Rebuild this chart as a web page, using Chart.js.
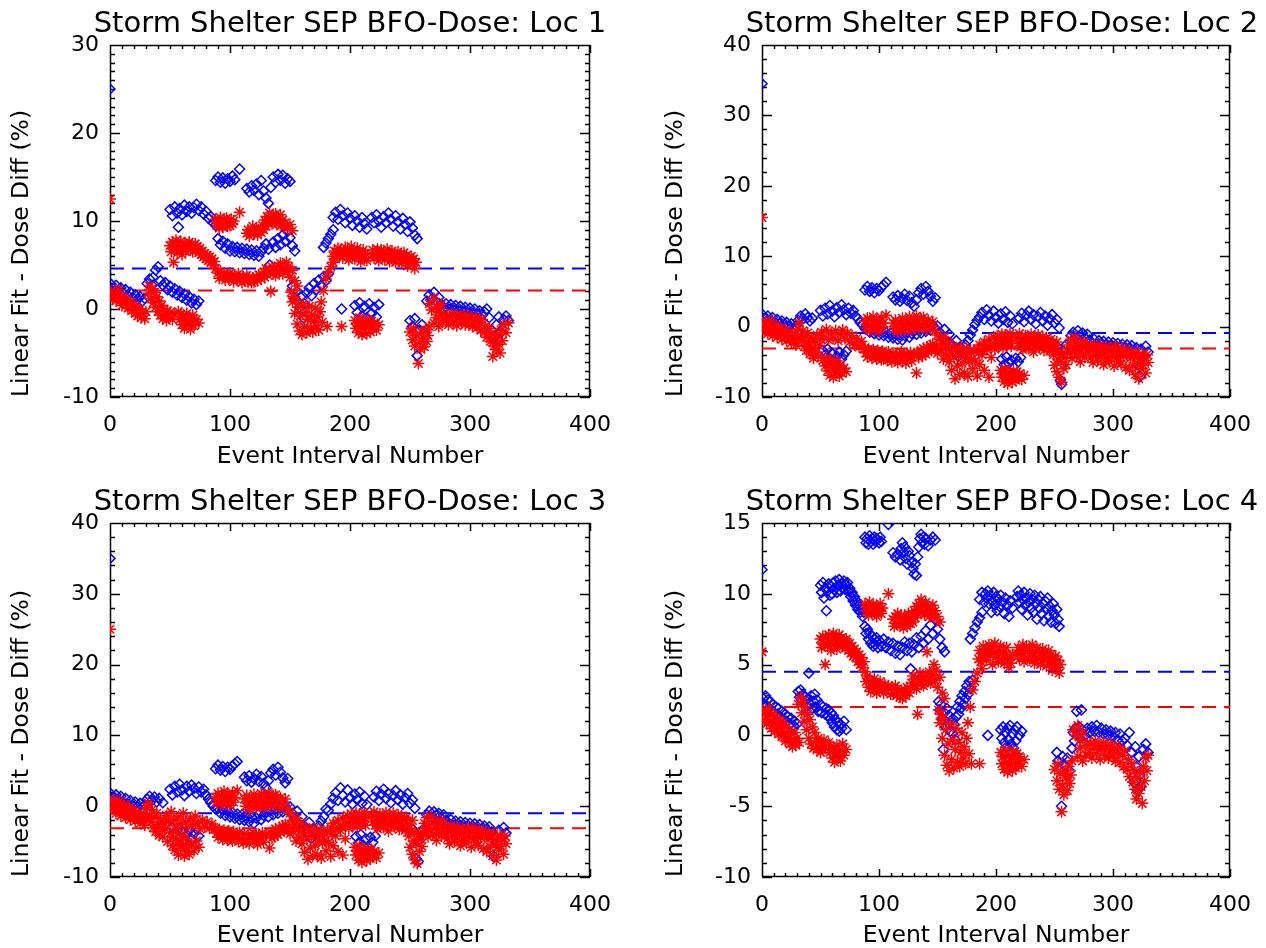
<!DOCTYPE html>
<html>
<head>
<meta charset="utf-8">
<title>Storm Shelter SEP BFO-Dose</title>
<script src="https://cdn.jsdelivr.net/npm/chart.js@4.4.1/dist/chart.umd.min.js"></script>
<style>
	html, body { margin: 0; padding: 0; background: #fff; }
	#page { position: relative; width: 1266px; height: 948px; overflow: hidden; }
	.panel { position: absolute; width: 633px; height: 474px; }
	.panel canvas { display: block; }
	.ptitle {
		position: absolute;
		width: 600px;
		height: 34px;
		line-height: 34px;
		text-align: center;
		white-space: nowrap;
		font-family: 'DejaVu Sans', sans-serif;
		font-size: 29px;
		color: #000;
	}
</style>
</head>
<body>
<div id="page">
	<div class="panel" style="left:0;top:0"><canvas id="loc1" width="633" height="474"></canvas><div class="ptitle" id="title1" style="left:50px;top:5px"></div></div>
	<div class="panel" style="left:633px;top:0"><canvas id="loc2" width="633" height="474"></canvas><div class="ptitle" id="title2" style="left:69px;top:5px"></div></div>
	<div class="panel" style="left:0;top:474px"><canvas id="loc3" width="633" height="474"></canvas><div class="ptitle" id="title3" style="left:50px;top:9px"></div></div>
	<div class="panel" style="left:633px;top:474px"><canvas id="loc4" width="633" height="474"></canvas><div class="ptitle" id="title4" style="left:69px;top:9px"></div></div>
</div>
<script>
/* ---------- Data ---------- */

var TITLES = [
	'Storm Shelter SEP BFO-Dose: Loc 1',
	'Storm Shelter SEP BFO-Dose: Loc 2',
	'Storm Shelter SEP BFO-Dose: Loc 3',
	'Storm Shelter SEP BFO-Dose: Loc 4'
];
var X_TITLE = 'Event Interval Number';
var Y_TITLE = 'Linear Fit - Dose Diff (%)';

// y axis: min, max, major step, minor step
var Y_MIN = [-10, -10, -10, -10];
var Y_MAX = [30, 40, 40, 15];
var Y_STEP = [10, 10, 10, 5];
var Y_MINOR = [1, 2, 2, 1];

// mean levels (dashed lines)
var BLUE_MEAN = [4.6, -0.9, -1.0, 4.5];
var RED_MEAN = [2.1, -3.1, -3.1, 2.0];

// [event interval, diff %]
var LOC1_BLUE = [[0,25.0],
[1,2.8],[3,2.3],[5,2.7],[7,2.0],[9,2.4],[11,1.8],[13,2.2],[15,1.5],[17,1.9],[19,1.3],[21,1.6],[23,1.1],[25,1.4],[27,0.9],[29,1.2],
[31,2.9],[33,3.4],[35,2.7],[36,3.6],[38,4.4],[40,4.8],[42,3.2],
[44,2.7],[46,3.0],[48,2.2],[50,2.6],[52,1.9],[54,2.3],[56,1.6],[58,2.0],[60,1.3],[62,1.7],[64,1.0],[66,1.4],[68,0.7],[70,1.1],[72,0.5],[74,0.9],
[50,11.3],[52,10.6],[54,11.6],[56,10.9],[57,9.3],[58,11.4],[60,10.7],[62,11.8],[64,11.1],[66,11.6],[68,10.9],[70,11.5],[72,11.9],[74,11.2],[76,11.6],[78,10.8],[80,11.1],[82,10.3],[84,10.5],[86,9.8],[88,9.5],
[88,14.6],[90,15.0],[92,14.4],[94,14.9],[96,14.3],[98,14.8],[100,14.5],[102,15.1],[104,14.7],[108,15.9],
[90,8.0],[92,7.3],[94,7.7],[96,6.9],[98,7.4],[100,6.6],[102,7.1],[104,6.5],[106,7.0],[108,6.4],[110,6.9],[112,6.3],[114,6.8],[116,6.2],[118,6.7],[120,6.1],[122,6.6],[124,6.0],[126,6.5],[128,6.9],[130,7.4],[132,6.8],[133,5.0],[136,7.6],[138,7.0],[140,8.0],[142,7.3],[144,8.4],[146,7.7],[148,8.8],[150,8.1],[152,7.2],[154,6.6],
[114,13.7],[116,13.3],[118,14.0],[120,13.5],[122,14.2],[124,13.0],[126,14.6],[128,13.4],[130,12.6],[132,12.0],[134,13.8],[136,15.0],[138,14.4],[140,15.3],[142,14.6],[144,15.2],[146,14.3],[148,14.8],[150,14.5],
[152,2.6],[154,1.2],[156,2.0],[158,0.2],[160,1.5],[161,-1.0],[162,0.6],[164,1.8],[166,2.4],[168,1.5],[170,2.9],[172,2.2],[174,3.3],[176,2.7],[178,3.7],[180,3.2],[182,4.0],
[178,7.0],[180,7.5],[182,8.0],[184,8.5],[186,9.0],
[186,10.4],[188,11.0],[190,10.2],[192,11.3],[194,10.6],[196,9.8],[198,10.9],[200,10.3],[202,9.5],[204,10.6],[206,10.0],[208,9.3],[210,10.4],[212,9.7],[214,9.1],
[193,0.0],
[204,0.4],[206,-0.4],[208,0.7],[210,-0.8],[212,0.3],[214,-1.0],[216,0.6],[218,-0.5],[220,0.2],[222,-0.9],[224,0.5],
[218,10.4],[220,9.8],[222,10.7],[224,10.0],[226,9.3],[228,10.5],[230,9.8],[232,10.9],[234,10.2],[236,9.4],[238,10.6],[240,9.9],[242,9.1],[244,10.3],[246,9.6],[248,8.8],[250,9.9],[252,9.2],[254,8.4],[256,8.0],
[250,-1.3],[252,-2.0],[254,-1.1],[256,-5.3],[258,-2.4],[260,-1.8],[262,-2.6],
[264,0.9],[266,1.6],[268,1.1],[270,1.9],[272,0.8],[274,1.3],
[276,0.5],[278,0.1],[280,0.6],[282,0.0],[284,0.5],[286,-0.1],[288,0.4],[290,-0.2],[292,0.3],[294,-0.3],[296,0.2],[298,-0.4],[300,0.1],[302,-0.5],[304,0.0],[306,-0.6],[308,-0.2],[310,-0.7],[312,-0.3],[314,0.0],[316,-1.0],[318,-2.4],[320,-3.3],[322,-1.8],[324,-0.9],[326,-2.6],[328,-1.2],[330,-0.8],[332,-1.3]];

var LOC1_RED = [[0,12.5],
[1,2.0],[2,1.2],[3,1.7],[5,0.9],[6,1.6],[7,2.2],[9,1.0],[10,0.4],[11,1.4],[13,0.6],[14,1.1],[15,0.1],[17,0.8],[18,-0.2],[19,0.5],[21,-0.5],[22,0.3],[23,-0.8],[25,0.0],[26,-1.0],[27,-0.4],[29,-1.1],[30,-0.3],
[32,1.8],[33,2.6],[34,1.2],[35,2.3],[36,0.7],[37,1.9],[38,0.2],[39,1.4],[40,-0.3],[41,0.9],[42,-0.7],[43,0.4],[44,-1.1],[45,0.0],[46,-0.6],[47,-1.3],[48,-0.2],[49,-0.9],[50,-0.4],[52,-1.2],[54,-0.6],
[57,-0.3],[58,-1.2],[59,-0.6],[60,-1.8],[61,-0.9],[62,-2.2],[63,-1.4],[64,-0.5],[65,-1.7],[66,-1.1],[67,-2.3],[68,-1.4],[69,-0.7],[70,-1.9],[72,-1.2],[74,-1.6],
[50,7.2],[51,6.5],[52,7.6],[53,5.3],[54,6.9],[55,7.8],[56,6.4],[57,7.3],[58,6.8],[59,7.7],[60,6.2],[61,7.1],[62,7.5],[63,6.6],[64,7.2],[65,6.9],[66,7.6],[67,6.7],[68,7.3],[69,6.5],[70,7.0],[71,7.4],[72,6.7],[73,7.1],[74,6.4],[75,6.9],[76,6.2],[77,6.6],[78,5.9],[79,6.3],[80,5.7],[81,6.1],[82,5.5],[83,5.9],[84,5.3],[85,5.7],[86,5.0],[87,5.4],
[88,10.2],[89,9.5],[90,10.0],[91,9.2],[92,10.4],[93,9.7],[94,9.3],[95,10.1],[96,9.6],[97,10.3],[98,9.4],[99,9.9],[100,9.5],[101,10.2],[102,9.7],[103,10.0],[108,11.0],
[88,4.6],[90,4.1],[91,3.5],[92,4.3],[94,3.6],[95,4.0],[96,3.3],[98,3.9],[99,3.4],[100,4.1],[102,3.6],[103,3.1],[104,3.8],[106,3.3],[107,4.0],[108,3.5],[110,3.0],[111,3.7],[112,3.2],[114,3.8],[115,3.1],[116,3.6],[118,3.0],[119,3.5],[120,3.1],[122,3.7],[123,3.2],[124,3.9],[126,3.4],[128,4.2],[129,3.6],[130,4.6],[131,3.9],[132,4.3],[134,2.0],[135,4.8],[136,4.0],[137,4.5],[138,3.8],[140,4.9],[141,4.2],[142,5.2],[143,4.4],[144,4.0],[146,4.7],[147,5.3],[148,4.2],[149,4.8],[150,3.6],[152,4.4],[154,3.2],[156,2.6],
[114,8.6],[115,9.0],[116,8.3],[118,8.8],[119,9.4],[120,8.5],[122,9.1],[123,8.4],[124,9.0],[126,8.7],[127,9.5],[128,9.0],[129,10.1],[130,9.4],[131,10.5],[132,9.8],[133,10.9],[134,10.2],[135,9.7],[136,10.6],[137,10.0],[138,10.8],[139,9.6],[140,10.3],[141,9.9],[142,10.7],[143,9.5],[144,10.1],[145,9.3],[146,9.8],[148,9.2],[150,9.6],[152,8.9],
[151,1.9],[152,0.8],[153,1.4],[154,-0.5],[155,1.0],[156,-1.7],[157,0.2],[158,-2.5],[159,-0.8],[160,-2.9],[161,0.6],[162,-2.0],[163,-0.4],[164,-2.7],[165,-1.2],[166,0.3],[167,-2.2],[168,-0.7],[169,-2.6],[170,-1.4],[171,0.1],[172,-1.9],[173,-0.9],[174,-2.4],[175,-0.3],[176,0.8],[177,-1.5],[178,2.1],[180,3.4],[181,-2.0],[182,4.2],[184,4.8],[186,5.3],[193,-2.0],
[186,6.0],[187,6.6],[188,5.7],[189,6.4],[190,6.9],[191,6.1],[192,6.7],[194,5.8],[195,6.5],[196,7.0],[197,6.2],[198,6.8],[199,5.6],[200,6.4],[201,7.1],[202,6.0],[203,6.6],[204,5.7],[205,6.3],[206,6.9],[207,5.9],[208,6.5],[209,5.4],[210,6.1],[211,6.7],[212,5.8],[213,6.3],[214,5.5],
[204,-1.3],[205,-2.2],[206,-1.6],[207,-2.7],[208,-1.0],[209,-2.0],[210,-2.9],[211,-1.5],[212,-2.3],[213,-1.7],[214,-2.8],[215,-1.2],[216,-2.0],[217,-2.6],[218,-1.4],[219,-2.2],[220,-1.6],[222,-2.4],[224,-1.8],
[218,6.2],[219,6.7],[220,5.8],[221,6.4],[222,5.9],[223,6.8],[224,5.5],[225,6.3],[226,6.7],[227,5.9],[228,6.4],[229,5.6],[230,6.1],[231,6.8],[232,6.0],[233,5.4],[234,6.3],[235,6.6],[236,5.8],[237,6.2],[238,5.3],[239,6.0],[240,6.5],[241,5.7],[242,6.2],[243,5.2],[244,5.9],[245,6.4],[246,5.5],[247,6.1],[248,4.9],[249,5.8],[250,5.3],[251,6.0],[252,5.1],[253,5.7],[254,4.6],[255,5.3],
[250,-2.6],[252,-3.5],[253,-2.2],[254,-4.2],[255,-3.0],[257,-6.2],[258,-3.8],[259,-4.6],[260,-2.7],[261,-3.3],[262,-4.3],[263,-2.4],[264,-3.7],[265,-3.0],[266,-2.0],
[266,0.6],[268,-0.1],[270,1.2],[272,0.2],[274,-0.3],[276,0.5],
[270,-1.6],[272,-1.0],[274,-2.0],[276,-0.8],[277,-1.5],[278,-0.6],[280,-1.3],[281,-0.7],[282,-1.8],[284,-1.0],[285,-0.5],[286,-1.5],[288,-0.8],[289,-1.9],[290,-1.1],[292,-0.6],[293,-1.6],[294,-0.9],[296,-1.8],[297,-1.2],[298,-0.7],[300,-1.7],[301,-1.0],[302,-2.0],[304,-1.3],[305,-0.9],[306,-2.1],[308,-1.5],[309,-2.4],[310,-1.2],[312,-2.7],[313,-1.9],[314,-3.2],[316,-2.2],[317,-3.7],[318,-2.8],[319,-5.4],[320,-4.2],[321,-3.3],[322,-4.6],[323,-2.9],[324,-4.0],[325,-5.0],[326,-2.4],[327,-3.6],[328,-1.8],[330,-2.7],[332,-1.6]];

var LOC2_BLUE = [[0,34.5],
[1,1.6],[3,1.1],[5,1.5],[7,0.8],[9,1.3],[11,0.6],[13,1.0],[15,0.4],[17,0.8],[19,0.2],[21,0.6],[23,0.0],[25,0.4],[27,-0.3],[29,0.1],
[31,0.9],[33,1.5],[35,1.1],[37,1.8],[39,1.3],[41,0.8],[43,1.2],
[52,-3.4],[54,-4.0],[56,-3.2],[58,-4.5],[60,-3.8],[62,-4.9],[64,-4.2],[66,-3.6],[68,-4.6],[70,-4.0],[72,-3.5],
[50,2.3],[52,1.5],[54,2.6],[56,1.8],[58,3.0],[60,2.2],[62,1.4],[64,2.7],[66,2.0],[68,3.1],[70,2.4],[72,1.7],[74,2.6],[76,1.9],[78,2.3],[80,1.5],[82,1.1],[84,0.6],[86,0.2],[88,-0.3],
[88,5.2],[90,5.7],[92,5.0],[94,5.5],[96,4.8],[98,5.4],[100,5.1],[102,5.6],[104,5.9],[106,6.3],
[90,-0.2],[92,-0.8],[94,-0.3],[96,-1.0],[98,-0.5],[100,-1.2],[102,-0.6],[104,-1.3],[106,-0.8],[108,-1.5],[110,-0.9],[112,-1.6],[114,-1.0],[116,-1.8],[118,-1.2],[120,-1.9],[122,-1.3],[124,-0.8],[126,-1.5],[128,-1.0],[130,-0.5],[132,-1.1],[134,-0.4],[136,-0.9],[138,-0.2],[140,-0.7],[142,0.0],[144,-0.5],[146,0.2],[148,-0.3],[150,0.1],[152,-0.8],[154,-1.6],[156,-0.4],[158,-2.2],[160,-1.1],
[112,4.2],[114,3.8],[116,4.4],[118,3.6],[120,4.0],[122,4.6],[124,3.7],[126,4.3],[128,3.4],[130,2.9],[132,3.8],[134,4.8],[136,5.4],[138,4.6],[140,5.7],[142,5.0],[144,4.3],[146,3.6],[148,4.1],
[162,-2.5],[164,-3.4],[166,-2.0],[168,-4.2],[170,-3.0],[172,-3.8],[174,-2.6],[176,-2.0],[178,-1.2],[180,-0.5],[182,0.3],[184,0.9],
[186,1.4],[188,2.0],[190,1.0],[192,2.4],[194,1.6],[196,0.8],[198,2.2],[200,1.3],[202,0.5],[204,1.8],[206,1.0],[208,2.1],[210,0.6],[212,1.5],[214,0.4],
[205,-4.6],[207,-5.4],[209,-4.3],[211,-5.2],[213,-4.8],[215,-5.7],[217,-4.5],[219,-5.0],[221,-4.4],
[220,1.2],[222,1.9],[224,0.7],[226,1.6],[228,2.2],[230,1.0],[232,1.7],[234,0.4],[236,1.4],[238,2.0],[240,0.8],[242,1.5],[244,0.2],[246,1.1],[248,1.7],[250,0.5],[252,1.0],[254,-0.2],
[252,-2.8],[255,-7.6],[256,-8.2],[258,-3.5],[260,-2.6],
[264,-1.3],[266,-0.8],[268,-1.5],[270,-0.6],[272,-1.2],[274,-0.9],[276,-1.6],[278,-1.1],
[280,-1.9],[282,-2.4],[284,-1.8],[286,-2.5],[288,-2.0],[290,-2.6],[292,-2.1],[294,-2.7],[296,-2.2],[298,-2.8],[300,-2.3],[302,-2.9],[304,-2.4],[306,-3.0],[308,-2.5],[310,-3.1],[312,-2.6],[314,-3.2],[316,-2.7],[318,-3.4],[320,-3.0],[322,-5.5],[323,-7.1],[324,-3.2],[326,-4.2],[328,-2.8],[330,-3.6]];

var LOC2_RED = [[0,15.5],
[1,0.4],[2,-0.5],[3,0.7],[4,-0.2],[5,-1.0],[6,0.3],[7,-0.6],[8,0.8],[9,-1.3],[10,-0.1],[11,-0.8],[12,0.2],[13,-1.5],[14,-0.4],[15,-1.1],[16,-0.2],[17,-1.8],[18,-0.7],[19,-1.3],[20,-0.5],[21,-2.0],[22,-1.0],[23,-1.6],[24,-0.8],[25,-2.3],[26,-1.3],[27,-1.9],[28,-1.0],[29,-2.6],[30,-1.6],
[31,-0.4],[32,0.5],[33,-1.2],[34,-2.0],[35,-0.6],[36,-2.8],[37,-1.5],[38,-3.4],[39,-0.9],[40,-2.4],[41,-3.9],[42,-1.6],[43,-3.0],[44,-4.5],[45,-2.1],[46,-3.6],[47,-1.2],[48,-4.2],[49,-2.7],[50,-1.8],
[52,-4.8],[54,-5.6],[55,-4.4],[56,-6.3],[57,-5.1],[58,-6.9],[59,-4.7],[60,-5.8],[61,-7.2],[62,-5.3],[63,-6.5],[64,-4.9],[65,-6.0],[66,-7.0],[67,-5.5],[68,-6.6],[70,-5.9],[72,-6.4],
[51,-0.8],[53,-1.5],[55,-0.4],[57,-1.9],[59,-0.9],[61,-1.6],[63,-0.6],[65,-2.0],[67,-1.1],[69,-0.5],[71,-1.7],[73,-0.9],[75,-2.2],[77,-1.3],[79,-2.6],[81,-1.7],[83,-2.9],[85,-2.1],[87,-3.2],
[88,0.8],[89,-0.2],[90,1.2],[91,0.2],[92,-0.6],[93,0.9],[94,0.0],[95,1.4],[96,0.4],[97,-0.4],[98,1.0],[99,0.1],[100,-0.7],[101,0.7],[102,1.3],[103,-0.1],[104,0.5],[106,1.6],
[88,-3.0],[89,-3.7],[90,-4.3],[91,-3.2],[92,-4.0],[93,-3.5],[94,-4.5],[95,-3.3],[96,-4.1],[97,-3.6],[98,-4.6],[99,-3.4],[100,-4.2],[101,-3.8],[102,-4.7],[103,-3.5],[104,-4.3],[106,-3.9],[107,-4.8],[108,-3.6],[110,-4.4],[111,-5.0],[112,-3.8],[114,-4.6],[115,-4.0],[116,-5.1],[118,-4.2],[119,-3.6],[120,-4.8],[122,-4.1],[123,-5.2],[124,-3.9],[126,-4.5],[127,-3.7],[128,-4.9],[130,-4.0],[132,-6.6],[133,-3.6],[134,-4.4],[136,-3.5],[137,-4.2],[138,-3.1],[140,-3.9],[141,-2.9],[142,-3.6],[144,-2.7],[145,-3.3],[146,-2.5],[148,-3.4],[149,-2.8],[150,-3.8],
[112,0.5],[113,-0.4],[114,0.9],[115,0.1],[116,-0.8],[118,0.6],[119,-0.3],[120,1.2],[121,0.3],[122,-0.6],[124,0.8],[125,-0.1],[126,1.4],[127,0.4],[128,-0.5],[130,1.0],[131,0.0],[132,1.5],[133,0.6],[134,-0.3],[136,1.1],[137,0.2],[138,1.3],[140,0.5],[141,-0.4],[142,0.9],[144,0.1],[146,0.7],[148,-0.6],[150,-1.2],
[152,-1.8],[153,-3.4],[154,-2.4],[155,-4.6],[156,-1.5],[157,-3.0],[158,-4.1],[159,-2.2],[160,-5.0],[161,-3.6],[162,-6.2],[163,-2.8],[164,-4.4],[165,-7.4],[166,-3.2],[167,-5.6],[168,-4.0],[169,-6.8],[170,-2.9],[171,-5.2],[172,-3.8],[173,-6.6],[174,-4.5],[175,-3.1],[176,-7.1],[177,-5.0],[178,-3.6],[179,-4.6],[180,-6.0],[181,-3.4],[182,-4.9],[184,-7.0],[185,-3.8],[186,-5.4],[188,-4.0],[190,-6.2],[192,-3.2],[194,-7.2],[196,-4.4],
[184,-3.2],[186,-2.6],[188,-3.4],[190,-2.2],[192,-2.9],[194,-1.8],[196,-2.6],[198,-1.5],[199,-3.2],[200,-2.1],[201,-1.3],[202,-2.8],[203,-1.7],[204,-2.4],[205,-1.1],[206,-3.0],[207,-1.9],[208,-1.2],[209,-2.6],[210,-1.6],[211,-2.2],[212,-1.0],[213,-2.8],[214,-1.5],
[204,-6.2],[205,-7.2],[206,-6.6],[207,-7.8],[208,-6.0],[209,-7.1],[210,-8.1],[211,-6.5],[212,-7.4],[213,-6.8],[214,-7.9],[215,-6.3],[216,-7.0],[217,-7.6],[218,-6.4],[219,-7.3],[220,-6.7],[222,-7.5],[224,-6.9],
[218,-1.5],[219,-2.4],[220,-1.0],[221,-2.9],[222,-1.8],[223,-3.3],[224,-2.2],[225,-1.3],[226,-2.7],[227,-1.7],[228,-3.1],[229,-2.0],[230,-1.1],[231,-2.5],[232,-3.6],[233,-1.6],[234,-2.8],[235,-2.1],[236,-1.2],[237,-3.0],[238,-1.9],[239,-2.6],[240,-1.4],[241,-3.4],[242,-2.3],[243,-1.6],[244,-2.9],[245,-2.0],[246,-3.5],[247,-1.8],[248,-2.6],[250,-3.2],[252,-2.2],[254,-3.7],
[249,-4.0],[250,-5.5],[251,-3.2],[252,-6.4],[253,-4.6],[254,-7.2],[255,-5.0],[256,-7.9],[257,-3.8],[258,-6.0],[259,-4.4],[260,-5.4],[261,-3.5],
[262,-2.6],[263,-3.8],[264,-1.8],[265,-4.5],[266,-2.9],[267,-3.6],[268,-1.6],[269,-4.2],[270,-2.4],[271,-3.3],[272,-5.0],[273,-2.7],[274,-3.9],[275,-2.2],[276,-4.4],[277,-3.0],[278,-2.5],
[279,-3.6],[280,-2.8],[281,-4.4],[282,-3.3],[283,-5.1],[284,-2.6],[285,-4.0],[286,-3.1],[287,-4.8],[288,-3.5],[289,-2.7],[290,-4.3],[291,-3.2],[292,-5.4],[293,-3.8],[294,-2.9],[295,-4.6],[296,-3.4],[297,-5.0],[298,-3.0],[299,-4.1],[300,-3.6],[301,-5.6],[302,-2.8],[303,-4.4],[304,-3.3],[305,-4.9],[306,-3.7],[307,-5.3],[308,-3.1],[309,-4.2],[310,-3.6],[311,-5.8],[312,-4.0],[313,-3.4],[314,-6.2],[315,-4.5],[316,-3.8],[317,-5.6],[318,-4.2],[319,-6.8],[320,-3.7],[321,-5.2],[322,-7.4],[323,-4.6],[324,-6.0],[325,-3.9],[326,-5.5],[327,-4.3],[328,-6.6],[329,-4.0],[330,-5.1]];

var LOC3_BLUE = [[0,35.0],
[1,1.7],[3,1.2],[5,1.6],[7,0.9],[9,1.4],[11,0.6],[13,1.1],[15,0.3],[17,0.8],[19,0.1],[21,0.6],[23,-0.1],[25,0.4],[27,-0.2],[29,0.2],
[31,1.0],[33,1.4],[35,0.8],[37,1.3],[39,0.6],[41,1.1],[44,0.5],
[52,-3.0],[54,-3.8],[56,-3.3],[58,-4.4],[60,-3.6],[62,-4.8],[64,-4.0],[66,-3.4],[68,-4.6],[70,-3.9],[72,-3.2],[74,-4.2],
[50,2.4],[52,1.6],[54,2.8],[56,2.0],[58,3.1],[60,2.3],[62,1.5],[64,2.8],[66,2.1],[68,3.0],[70,2.5],[72,1.8],[74,2.7],[76,2.0],[78,2.4],[80,1.6],[82,1.0],[84,0.5],[86,0.0],[88,-0.4],
[88,5.3],[90,5.8],[92,5.1],[94,5.6],[96,4.9],[98,5.5],[100,5.2],[102,5.7],[104,6.0],[106,6.3],
[90,-0.3],[92,-1.0],[94,-0.5],[96,-1.3],[98,-0.7],[100,-1.5],[102,-0.9],[104,-1.7],[106,-1.1],[108,-1.9],[110,-1.2],[112,-2.0],[114,-1.4],[116,-2.2],[118,-1.6],[120,-2.4],[122,-1.7],[124,-1.1],[126,-1.9],[128,-1.3],[130,-0.8],[132,-1.5],[134,-0.6],[136,-1.2],[138,-0.4],[140,-1.0],[142,-0.2],[144,-0.8],[146,0.0],[148,-0.6],[150,-0.1],[152,-1.0],[154,-1.8],[156,-0.7],[158,-2.6],[160,-1.5],
[112,4.1],[114,3.6],[116,4.3],[118,3.4],[120,3.9],[122,4.5],[124,3.5],[126,4.2],[128,3.2],[130,2.6],[132,3.6],[134,4.7],[136,5.2],[138,4.4],[140,5.5],[142,4.8],[144,4.0],[146,3.3],[148,3.9],
[162,-2.8],[164,-3.7],[166,-2.3],[168,-4.5],[170,-3.3],[172,-3.9],[174,-2.8],[176,-2.1],[178,-1.5],[180,-0.4],[182,-0.6],[184,0.3],
[186,1.1],[188,1.9],[190,0.8],[192,2.6],[194,1.5],[196,0.6],[198,2.3],[200,1.2],[202,0.3],[204,1.7],[206,0.9],[208,2.0],[210,0.4],[212,1.4],[214,0.2],
[205,-4.3],[207,-5.2],[209,-4.0],[211,-5.5],[213,-4.6],[215,-5.8],[217,-4.4],[219,-5.1],[221,-4.2],
[220,1.3],[222,2.1],[224,0.8],[226,1.7],[228,2.4],[230,1.1],[232,1.8],[234,0.5],[236,1.5],[238,2.2],[240,0.9],[242,1.6],[244,0.3],[246,1.2],[248,1.8],[250,0.4],[252,0.9],[254,-0.3],
[252,-3.2],[255,-7.4],[257,-7.8],[258,-4.8],[260,-3.4],
[264,-1.2],[266,-0.7],[268,-1.5],[270,-0.8],[272,-1.3],[274,-1.0],[276,-1.7],[278,-1.2],
[280,-2.0],[282,-2.6],[284,-1.9],[286,-2.7],[288,-2.1],[290,-2.8],[292,-2.2],[294,-2.9],[296,-2.3],[298,-3.0],[300,-2.4],[302,-3.1],[304,-2.5],[306,-3.2],[308,-2.6],[310,-3.3],[312,-2.8],[314,-3.4],[316,-2.9],[318,-3.6],[320,-7.1],[322,-5.2],[324,-3.4],[326,-4.4],[328,-3.0],[330,-3.8]];

var LOC3_RED = [[0,25.0],
[1,0.6],[2,-0.4],[3,0.9],[4,-0.1],[5,-1.0],[6,0.4],[7,-0.6],[8,0.7],[9,-1.4],[10,-0.2],[11,-0.9],[12,0.3],[13,-1.6],[14,-0.5],[15,-1.2],[16,-0.1],[17,-1.9],[18,-0.8],[19,-1.4],[20,-0.6],[21,-2.1],[22,-1.1],[23,-1.7],[24,-0.9],[25,-2.4],[26,-1.4],[27,-2.0],[28,-1.1],[29,-2.7],[30,-1.7],
[31,-0.2],[32,0.4],[33,-1.3],[34,-2.2],[35,-0.5],[36,-3.0],[37,-1.6],[38,-3.6],[39,-1.0],[40,-2.6],[41,-4.1],[42,-1.8],[43,-3.2],[44,-4.3],[45,-2.3],
[46,-3.2],[48,-5.0],[50,-3.8],[52,-5.6],[53,-4.4],[54,-6.2],[55,-3.6],[56,-5.3],[57,-6.9],[58,-4.8],[59,-6.0],[60,-4.1],[61,-5.6],[62,-7.0],[63,-4.6],[64,-6.4],[65,-5.2],[66,-6.8],[68,-5.5],[70,-6.3],[72,-4.9],[74,-5.8],
[47,-1.3],[49,-2.2],[51,-0.8],[53,-1.9],[55,-2.8],[57,-1.5],[59,-2.5],[61,-1.0],[63,-2.2],[65,-3.0],[67,-1.7],[69,-2.6],[71,-1.4],[73,-2.4],[75,-3.2],[77,-2.0],[79,-2.9],[81,-2.2],[83,-3.1],[85,-2.5],[87,-3.3],
[88,1.3],[89,0.5],[90,1.8],[91,0.9],[92,0.2],[93,1.5],[94,0.7],[95,2.1],[96,1.1],[97,0.3],[98,1.6],[99,0.8],[100,0.1],[101,1.3],[102,1.9],[103,0.6],[104,1.2],[106,2.2],
[88,-3.1],[89,-3.8],[90,-4.4],[91,-3.3],[92,-4.1],[93,-3.6],[94,-4.7],[95,-3.4],[96,-4.2],[97,-3.7],[98,-4.8],[99,-3.5],[100,-4.3],[101,-3.9],[102,-4.9],[103,-3.6],[104,-4.4],[106,-4.0],[107,-5.0],[108,-3.7],[110,-4.5],[111,-5.2],[112,-3.9],[114,-4.7],[115,-4.1],[116,-5.3],[118,-4.3],[119,-3.7],[120,-5.0],[122,-4.2],[123,-5.4],[124,-4.0],[126,-4.6],[127,-3.8],[128,-5.1],[130,-4.1],[133,-5.9],[134,-3.7],[135,-4.5],[136,-3.6],[137,-4.3],[138,-3.2],[140,-4.0],[141,-3.0],[142,-3.7],[144,-2.8],[145,-3.4],[146,-2.6],[148,-3.5],[149,-2.9],[150,-3.9],
[112,1.0],[113,0.0],[114,1.5],[115,0.5],[116,-0.5],[118,1.1],[119,0.1],[120,1.7],[121,0.7],[122,-0.3],[124,1.2],[125,0.2],[126,1.8],[127,0.8],[128,-0.2],[130,1.4],[131,0.4],[132,1.9],[133,1.0],[134,0.0],[136,1.5],[137,0.5],[138,1.6],[140,0.8],[141,-0.2],[142,1.2],[144,0.3],[146,1.0],[148,-0.4],[150,-1.0],
[152,-2.0],[153,-3.6],[154,-2.6],[155,-4.9],[156,-1.7],[157,-3.2],[158,-4.4],[159,-2.4],[160,-5.3],[161,-3.8],[162,-6.5],[163,-3.0],[164,-4.7],[165,-7.5],[166,-3.4],[167,-5.9],[168,-4.2],[169,-7.0],[170,-3.1],[171,-5.5],[172,-4.0],[173,-6.9],[174,-4.7],[175,-3.3],[176,-7.3],[177,-5.2],[178,-3.8],[179,-4.8],[180,-6.3],[181,-3.5],[182,-5.1],[184,-7.1],[185,-4.0],[186,-5.6],[188,-4.2],[190,-6.4],[192,-3.4],[194,-6.9],[196,-4.6],
[184,-3.0],[186,-2.4],[188,-3.3],[190,-2.0],[192,-2.8],[194,-1.7],[196,-2.5],[198,-1.3],[199,-3.1],[200,-2.0],[201,-1.1],[202,-2.7],[203,-1.6],[204,-2.3],[205,-1.0],[206,-2.9],[207,-1.8],[208,-1.1],[209,-2.5],[210,-1.5],[211,-2.1],[212,-0.9],[213,-2.7],[214,-1.4],
[204,-5.8],[205,-6.9],[206,-6.3],[207,-7.6],[208,-5.6],[209,-6.8],[210,-7.9],[211,-6.2],[212,-7.2],[213,-6.5],[214,-7.7],[215,-6.0],[216,-6.8],[217,-7.4],[218,-6.1],[219,-7.1],[220,-6.4],[222,-7.3],[224,-6.6],
[218,-1.3],[219,-2.2],[220,-0.8],[221,-2.7],[222,-1.6],[223,-3.2],[224,-2.0],[225,-1.1],[226,-2.5],[227,-1.5],[228,-3.0],[229,-1.8],[230,-0.9],[231,-2.3],[232,-3.5],[233,-1.4],[234,-2.6],[235,-1.9],[236,-1.0],[237,-2.9],[238,-1.7],[239,-2.4],[240,-1.2],[241,-3.3],[242,-2.1],[243,-1.4],[244,-2.8],[245,-1.8],[246,-3.4],[247,-1.6],[248,-2.5],[250,-3.1],[252,-2.0],[254,-3.6],
[249,-4.2],[250,-5.8],[251,-3.5],[252,-6.8],[253,-4.9],[254,-7.6],[255,-5.3],[256,-8.1],[257,-4.0],[258,-6.4],[259,-4.7],[260,-5.7],[261,-3.8],
[262,-2.4],[263,-3.6],[264,-1.6],[265,-4.3],[266,-2.7],[267,-3.4],[268,-1.5],[269,-4.0],[270,-2.2],[271,-3.1],[272,-4.8],[273,-2.5],[274,-3.7],[275,-2.0],[276,-4.2],[277,-2.8],[278,-2.3],
[279,-3.8],[280,-3.0],[281,-4.6],[282,-3.5],[283,-5.3],[284,-2.8],[285,-4.2],[286,-3.3],[287,-5.0],[288,-3.7],[289,-2.9],[290,-4.5],[291,-3.4],[292,-5.6],[293,-4.0],[294,-3.1],[295,-4.8],[296,-3.6],[297,-5.2],[298,-3.2],[299,-4.3],[300,-3.8],[301,-5.8],[302,-3.0],[303,-4.6],[304,-3.5],[305,-5.1],[306,-3.9],[307,-5.5],[308,-3.3],[309,-4.4],[310,-3.8],[311,-6.0],[312,-4.2],[313,-3.6],[314,-6.4],[315,-4.7],[316,-4.0],[317,-5.8],[318,-4.4],[319,-7.0],[320,-3.9],[321,-5.4],[322,-7.6],[323,-4.8],[324,-6.2],[325,-4.1],[326,-5.7],[327,-4.5],[328,-6.8],[329,-4.2],[330,-5.3]];

var LOC4_BLUE = [[0,11.7],
[1,2.6],[2,2.2],[3,2.8],[4,2.1],[5,2.5],[6,1.9],[7,2.4],[8,1.8],[9,2.2],[10,1.6],[12,2.0],[13,1.5],[14,1.9],[16,1.3],[17,1.7],[18,1.1],[20,1.5],[21,1.0],[22,1.3],[24,0.8],[25,1.2],[27,0.7],[28,1.0],[30,0.8],
[31,3.1],[32,2.7],[33,3.2],[34,2.5],[35,2.9],[36,2.3],[37,2.7],[38,2.1],[40,4.4],
[39,2.6],[41,2.2],[42,2.8],[43,1.9],[44,2.4],[45,2.9],[46,2.0],[47,2.5],[48,1.7],[50,2.2],[51,1.6],[52,2.0],[54,1.5],[55,1.9],[56,1.4],
[57,1.8],[58,1.2],[59,1.6],[60,0.9],[61,1.4],[62,0.6],[63,1.1],[64,0.4],[65,0.9],[66,0.3],[67,0.8],[68,0.5],[70,1.0],[72,0.4],
[50,10.6],[51,10.1],[52,10.8],[53,9.7],[54,10.4],[55,8.8],[56,10.2],[57,10.7],[58,9.9],[59,10.5],[60,10.0],[61,10.8],[62,10.3],[63,10.9],[64,10.1],[65,10.6],[66,11.0],[67,10.2],[68,10.7],[69,10.4],[70,10.9],[71,10.3],[72,10.6],[73,10.8],[74,10.2],[75,10.4],[76,9.8],[77,10.1],[78,9.5],[79,9.8],[80,9.2],[81,9.5],[82,8.9],[83,9.2],[84,8.7],[85,8.9],[86,8.4],[87,8.7],
[88,14.0],[89,13.6],[90,13.9],[91,13.5],[92,14.1],[93,13.7],[94,13.9],[95,13.5],[96,14.0],[97,13.7],[98,13.9],[100,13.6],[101,14.0],[102,13.7],[108,14.9],
[88,7.7],[89,7.2],[90,7.5],[91,6.8],[92,7.2],[93,6.5],[94,7.0],[95,6.3],[96,6.8],[97,6.4],[98,6.9],[99,6.2],[100,6.7],[102,6.3],[104,6.8],[106,6.2],[108,6.6],[110,6.0],[112,6.5],[114,5.8],[116,6.3],[118,5.7],[120,6.2],[122,6.6],[124,6.0],[126,6.5],[127,4.7],[128,5.9],[130,6.4],[132,6.9],[134,6.2],[136,7.0],[138,6.5],[140,7.4],[142,6.8],[144,7.8],[146,7.2],[148,8.2],[150,7.5],[152,6.8],[154,6.2],[156,5.9],
[112,12.9],[114,12.6],[116,12.8],[118,12.4],[119,13.2],[120,13.6],[121,12.9],[122,13.3],[123,12.5],[124,12.1],[125,13.0],[126,12.7],[128,12.2],[129,11.8],[130,11.4],[131,12.1],[132,11.3],[133,12.6],[134,13.3],[135,13.9],[136,14.2],[137,13.6],[138,14.0],[139,13.5],[140,13.9],[142,13.4],[144,13.8],[146,14.0],[148,13.8],
[151,2.4],[152,1.8],[153,2.2],[154,1.2],[155,-1.0],[156,1.6],[157,0.6],[158,1.9],[159,0.9],[160,1.4],[161,0.3],[162,1.1],[163,0.1],[164,0.8],[165,-0.3],[166,1.3],[167,2.0],[168,1.5],[169,2.4],[170,1.9],[171,2.8],[172,2.2],[173,3.1],[174,2.6],[175,3.5],[176,2.9],[177,3.8],[178,3.3],[180,3.9],
[178,6.8],[180,7.2],[182,7.6],[184,8.0],[186,8.3],[188,8.7],
[186,9.6],[188,10.1],[190,9.4],[191,10.0],[192,9.7],[193,10.2],[194,9.3],[195,9.9],[196,8.7],[197,9.5],[198,10.1],[199,9.2],[200,9.8],[201,8.8],[202,9.6],[203,9.1],[204,9.9],[206,9.4],[207,8.6],[208,9.7],[210,9.2],[211,8.4],[212,9.5],[214,9.0],
[193,0.0],
[204,0.4],[205,-0.2],[206,0.6],[207,-0.5],[208,0.2],[209,-0.8],[210,0.5],[211,-0.3],[212,0.7],[213,-0.6],[214,0.1],[215,-0.9],[216,0.4],[217,-0.4],[218,0.6],[220,0.0],[222,0.3],
[218,9.8],[219,10.2],[220,9.4],[221,9.9],[222,8.9],[223,9.6],[224,10.1],[225,9.2],[226,9.7],[227,8.5],[228,9.4],[229,10.0],[230,9.0],[231,9.6],[232,8.7],[233,9.9],[234,9.3],[235,8.2],[236,9.6],[237,9.0],[238,9.8],[239,8.6],[240,9.3],[241,8.1],[242,9.5],[243,8.9],[244,9.7],[245,8.4],[246,9.1],[247,8.0],[248,8.8],[249,9.3],[250,8.5],[251,7.9],[252,8.9],[253,8.2],[254,7.7],
[252,-1.2],[253,-1.8],[255,-2.4],[256,-5.0],[257,-1.5],[259,-2.2],[261,-1.6],[263,-2.5],[265,-0.9],
[266,0.2],[267,-0.4],[268,0.5],[269,1.7],[270,0.1],[271,0.6],[272,-0.2],[273,1.8],[274,0.4],[276,0.0],[278,0.5],[280,0.2],[282,0.6],[284,0.3],[286,0.7],[288,0.2],[290,0.5],[292,0.1],[294,0.4],[296,0.0],[298,0.3],[300,-0.1],[302,0.2],[304,-0.3],[306,0.1],[308,-0.4],[310,-0.2],[312,-0.7],[314,0.2],[316,-1.2],[318,-3.3],[319,-0.8],[320,-2.2],[321,-3.9],[322,-1.5],[323,-2.8],[324,-3.6],[326,-1.0],[328,-0.6],[330,-1.2]];

var LOC4_RED = [[0,5.9],
[1,1.8],[2,1.1],[3,1.6],[4,0.8],[5,1.4],[6,1.9],[7,1.0],[8,0.5],[9,1.5],[10,0.9],[11,0.3],[12,1.3],[13,0.7],[14,0.1],[15,1.1],[16,0.5],[17,-0.1],[18,0.9],[19,0.2],[20,-0.4],[21,0.6],[22,-0.2],[23,0.3],[24,-0.6],[25,0.1],[26,-0.8],[27,-0.3],[28,0.2],[29,-0.7],[30,-0.2],[32,-0.5],
[31,2.2],[33,2.7],[34,1.6],[35,2.4],[36,1.0],[37,2.0],[38,0.4],[39,1.5],[40,-0.2],[41,1.1],[42,-0.6],[43,0.6],[44,-0.9],[45,0.2],
[46,-0.4],[47,-1.0],[48,-0.2],[49,-0.8],[50,-1.2],[51,-0.5],[52,-1.0],[53,-0.3],[54,-0.9],
[57,-0.5],[58,-1.2],[59,-0.8],[60,-1.6],[61,-1.0],[62,-1.9],[63,-1.3],[64,-0.7],[65,-1.5],[66,-1.1],[67,-1.8],[68,-1.2],[69,-0.6],[70,-1.4],[72,-1.0],
[50,6.8],[51,6.2],[52,7.0],[53,6.5],[54,5.0],[55,6.9],[56,6.3],[57,7.1],[58,6.6],[59,6.0],[60,6.8],[61,7.2],[62,6.4],[63,6.9],[64,6.1],[65,6.7],[66,7.1],[67,6.5],[68,6.9],[69,6.3],[70,6.7],[71,6.2],[72,6.8],[73,6.4],[74,6.0],[75,6.5],[76,5.8],[77,6.3],[78,5.6],[79,6.1],[80,5.5],[81,5.9],[82,5.2],[83,5.7],[84,5.0],[85,5.5],[86,4.8],[87,5.2],
[88,4.5],[89,3.8],[90,4.2],[91,3.4],[92,3.9],[93,3.1],[94,3.7],[95,3.3],[96,4.0],[97,3.5],[98,3.0],[99,3.6],[100,3.2],[101,3.8],[102,3.4],[104,3.0],[105,3.6],[106,3.2],[108,3.5],[110,2.9],[111,3.4],[112,3.0],[114,3.5],[115,2.8],[116,3.3],[118,2.7],[119,3.1],[120,2.6],[122,3.2],[123,2.8],[124,3.4],[126,3.0],[128,3.7],[129,4.2],[130,3.5],[131,4.0],[132,3.3],[133,1.5],[134,3.9],[135,4.4],[136,3.6],[137,4.1],[138,3.5],[140,4.2],[141,5.9],[142,3.8],[143,4.5],[144,3.7],[146,4.3],[147,5.0],[148,3.9],[149,4.6],[150,3.4],[152,4.1],[154,3.0],[156,2.6],
[88,9.3],[89,8.8],[90,9.1],[91,8.5],[92,9.4],[93,8.9],[94,8.6],[95,9.2],[96,8.7],[97,9.0],[98,8.4],[99,9.1],[100,8.8],[101,9.3],[102,8.6],[103,9.0],[108,10.0],
[112,8.2],[113,7.7],[114,8.4],[115,7.9],[116,8.6],[117,8.3],[118,7.8],[119,8.5],[120,8.0],[121,7.6],[122,8.4],[123,8.1],[124,7.7],[125,8.6],[126,8.2],[127,7.9],[128,8.5],[129,8.0],[130,8.8],[131,8.3],[132,9.1],[133,8.6],[134,9.3],[135,8.9],[136,9.6],[137,8.7],[138,9.2],[139,8.5],[140,9.4],[141,8.9],[142,9.1],[143,8.4],[144,9.0],[145,8.6],[146,9.2],[147,8.3],[148,8.8],[150,8.4],[152,8.0],
[151,1.8],[152,0.9],[153,1.5],[154,-0.2],[155,1.2],[156,-1.4],[157,0.4],[158,-2.1],[159,-0.6],[160,-2.5],[161,0.8],[162,-1.7],[163,-0.3],[164,-2.3],[165,-1.0],[166,0.5],[167,-1.9],[168,-0.5],[169,-2.2],[170,-1.2],[171,0.2],[172,-1.6],[173,-0.8],[174,-2.0],[175,-0.2],[176,0.9],[177,-1.3],[178,2.0],[179,-2.0],[180,3.2],[182,3.8],[184,4.4],[186,-2.0],[188,4.7],
[185,5.4],[186,6.0],[187,5.2],[188,5.8],[189,6.3],[190,5.6],[191,6.1],[192,5.3],[193,5.9],[194,6.4],[195,5.7],[196,6.2],[197,5.0],[198,5.8],[199,6.5],[200,5.5],[201,6.0],[202,5.2],[203,5.8],[204,6.3],[205,5.4],[206,5.9],[207,5.1],[208,5.7],[209,6.2],[210,5.4],[211,4.8],[212,5.6],[213,5.1],[214,5.7],
[204,-1.2],[205,-2.0],[206,-1.5],[207,-2.4],[208,-1.0],[209,-1.9],[210,-2.6],[211,-1.4],[212,-2.1],[213,-1.6],[214,-2.5],[215,-1.1],[216,-1.8],[217,-2.3],[218,-1.3],[219,-2.0],[220,-1.5],[222,-2.2],[224,-1.7],
[218,5.8],[219,6.2],[220,5.4],[221,6.0],[222,5.6],[223,6.4],[224,5.2],[225,5.9],[226,6.3],[227,5.5],[228,6.0],[229,5.3],[230,5.8],[231,6.4],[232,5.6],[233,5.1],[234,5.9],[235,6.2],[236,5.4],[237,5.8],[238,5.0],[239,5.6],[240,6.1],[241,5.3],[242,5.8],[243,4.9],[244,5.5],[245,6.0],[246,5.2],[247,5.7],[248,4.6],[249,5.4],[250,5.0],[251,5.6],[252,4.8],[253,5.3],[254,4.4],[255,5.0],
[250,-2.4],[252,-3.2],[253,-2.0],[254,-3.8],[255,-2.7],[256,-5.4],[257,-3.5],[258,-4.2],[259,-2.5],[260,-3.0],[261,-3.9],[262,-2.2],[263,-3.4],[264,-2.8],[265,-1.8],
[266,0.4],[268,0.0],[270,0.7],[272,-0.3],[274,0.2],
[270,-1.5],[272,-0.9],[274,-1.8],[276,-0.7],[277,-1.4],[278,-0.5],[280,-1.2],[281,-0.6],[282,-1.6],[284,-0.9],[285,-0.4],[286,-1.3],[288,-0.7],[289,-1.7],[290,-1.0],[292,-0.5],[293,-1.4],[294,-0.8],[296,-1.6],[297,-1.1],[298,-0.6],[300,-1.5],[301,-0.9],[302,-1.8],[304,-1.2],[305,-0.8],[306,-1.9],[308,-1.4],[309,-2.2],[310,-1.1],[312,-2.4],[313,-1.7],[314,-2.9],[316,-2.0],[317,-3.3],[318,-2.5],[319,-3.8],[320,-4.5],[321,-3.0],[322,-4.1],[323,-2.6],[324,-3.6],[325,-4.8],[326,-2.2],[327,-3.2],[328,-1.6],[329,-2.5],[330,-1.4]];

var BLUE_SETS = [LOC1_BLUE, LOC2_BLUE, LOC3_BLUE, LOC4_BLUE];
var RED_SETS = [LOC1_RED, LOC2_RED, LOC3_RED, LOC4_RED];

(function () {
	'use strict';

	var FONT = 'DejaVu Sans';
	var BLUE = '#0000ff';
	var RED = '#ff0000';

	// Frame placement of each quadrant inside its 633x474 canvas.
	var LAYOUT = [
		{ yWidth: 110, right: 43, top: 45, xHeight: 77, xTitlePad: 5, yTitlePad: 10 },
		{ yWidth: 129, right: 24, top: 45, xHeight: 77, xTitlePad: 5, yTitlePad: 31 },
		{ yWidth: 110, right: 43, top: 49, xHeight: 71, xTitlePad: 0, yTitlePad: 10 },
		{ yWidth: 129, right: 24, top: 49, xHeight: 71, xTitlePad: 0, yTitlePad: 31 }
	];

	/* ---------- IDL style box with inward ticks on all sides ---------- */

	function isMajor(v, step) {
		var r = v / step;
		return Math.abs(r - Math.round(r)) < 1e-6;
	}

	var idlFrame = {
		id: 'idlFrame',
		beforeDatasetsDraw: function (chart, args, opts) {
			var ctx = chart.ctx;
			var a = chart.chartArea;
			var xs = chart.scales.x;
			var ys = chart.scales.y;
			var k, v, p, len, n;

			ctx.save();
			ctx.strokeStyle = '#000';
			ctx.lineWidth = 1.5;
			ctx.beginPath();
			ctx.rect(a.left + 0.5, a.top + 0.5, a.right - a.left - 1, a.bottom - a.top - 1);

			n = Math.round((xs.max - xs.min) / opts.xMinor);
			for (k = 0; k <= n; k++) {
				v = xs.min + k * opts.xMinor;
				p = Math.round(xs.getPixelForValue(v)) + 0.5;
				len = isMajor(v, opts.xMajor) ? 8 : 4;
				ctx.moveTo(p, a.bottom);
				ctx.lineTo(p, a.bottom - len);
				ctx.moveTo(p, a.top);
				ctx.lineTo(p, a.top + len);
			}

			n = Math.round((ys.max - ys.min) / opts.yMinor);
			for (k = 0; k <= n; k++) {
				v = ys.min + k * opts.yMinor;
				p = Math.round(ys.getPixelForValue(v)) + 0.5;
				len = isMajor(v, opts.yMajor) ? 10 : 5;
				ctx.moveTo(a.left, p);
				ctx.lineTo(a.left + len, p);
				ctx.moveTo(a.right, p);
				ctx.lineTo(a.right - len, p);
			}
			ctx.stroke();
			ctx.restore();
		}
	};

	/* ---------- Panels ---------- */

	function buildPanel(i) {
		var L = LAYOUT[i];
		var canvas = document.getElementById('loc' + (i + 1));

		// Panel title is plain text above the frame.
		document.getElementById('title' + (i + 1)).textContent = TITLES[i];

		var datasets = [
			{
				type: 'line',
				data: [[0, BLUE_MEAN[i]], [400, BLUE_MEAN[i]]],
				borderColor: BLUE,
				borderWidth: 2,
				borderDash: [14, 8],
				pointRadius: 0,
				fill: false,
				clip: 0,
				order: 4
			},
			{
				type: 'line',
				data: [[0, RED_MEAN[i]], [400, RED_MEAN[i]]],
				borderColor: RED,
				borderWidth: 2,
				borderDash: [14, 8],
				pointRadius: 0,
				fill: false,
				clip: 0,
				order: 3
			},
			{
				data: BLUE_SETS[i],
				pointStyle: 'rectRot',
				pointRadius: 5,
				borderColor: BLUE,
				backgroundColor: 'rgba(0,0,0,0)',
				borderWidth: 1.5,
				clip: 0,
				order: 2
			},
			{
				data: RED_SETS[i],
				pointStyle: 'star',
				pointRadius: 6,
				borderColor: RED,
				backgroundColor: RED,
				borderWidth: 1.5,
				clip: 0,
				order: 1
			}
		];

		new Chart(canvas, {
			type: 'scatter',
			data: { datasets: datasets },
			options: {
				responsive: false,
				animation: false,
				events: [],
				layout: { padding: { left: 0, right: L.right, top: L.top, bottom: 0 } },
				plugins: {
					legend: { display: false },
					tooltip: { enabled: false },
					title: { display: false },
					idlFrame: { xMajor: 100, xMinor: 10, yMajor: Y_STEP[i], yMinor: Y_MINOR[i] }
				},
				scales: {
					x: {
						type: 'linear',
						min: 0,
						max: 400,
						grid: { display: false, drawTicks: false },
						border: { display: false },
						ticks: {
							stepSize: 100,
							color: '#000',
							padding: 15,
							maxRotation: 0,
							font: { family: FONT, size: 22 }
						},
						title: {
							display: true,
							text: X_TITLE,
							color: '#000',
							font: { family: FONT, size: 23.5, lineHeight: 1 },
							padding: { top: 0, bottom: L.xTitlePad }
						},
						afterFit: function (s) { s.height = L.xHeight; }
					},
					y: {
						type: 'linear',
						min: Y_MIN[i],
						max: Y_MAX[i],
						grid: { display: false, drawTicks: false },
						border: { display: false },
						ticks: {
							stepSize: Y_STEP[i],
							color: '#000',
							padding: 11,
							font: { family: FONT, size: 22 }
						},
						title: {
							display: true,
							text: Y_TITLE,
							align: 'start',
							color: '#000',
							font: { family: FONT, size: 23.5, lineHeight: 1 },
							padding: { top: L.yTitlePad, bottom: 0 }
						},
						afterFit: function (s) { s.width = L.yWidth; }
					}
				}
			},
			plugins: [idlFrame]
		});
	}

	for (var i = 0; i < 4; i++) {
		buildPanel(i);
	}
})();
</script>
</body>
</html>
